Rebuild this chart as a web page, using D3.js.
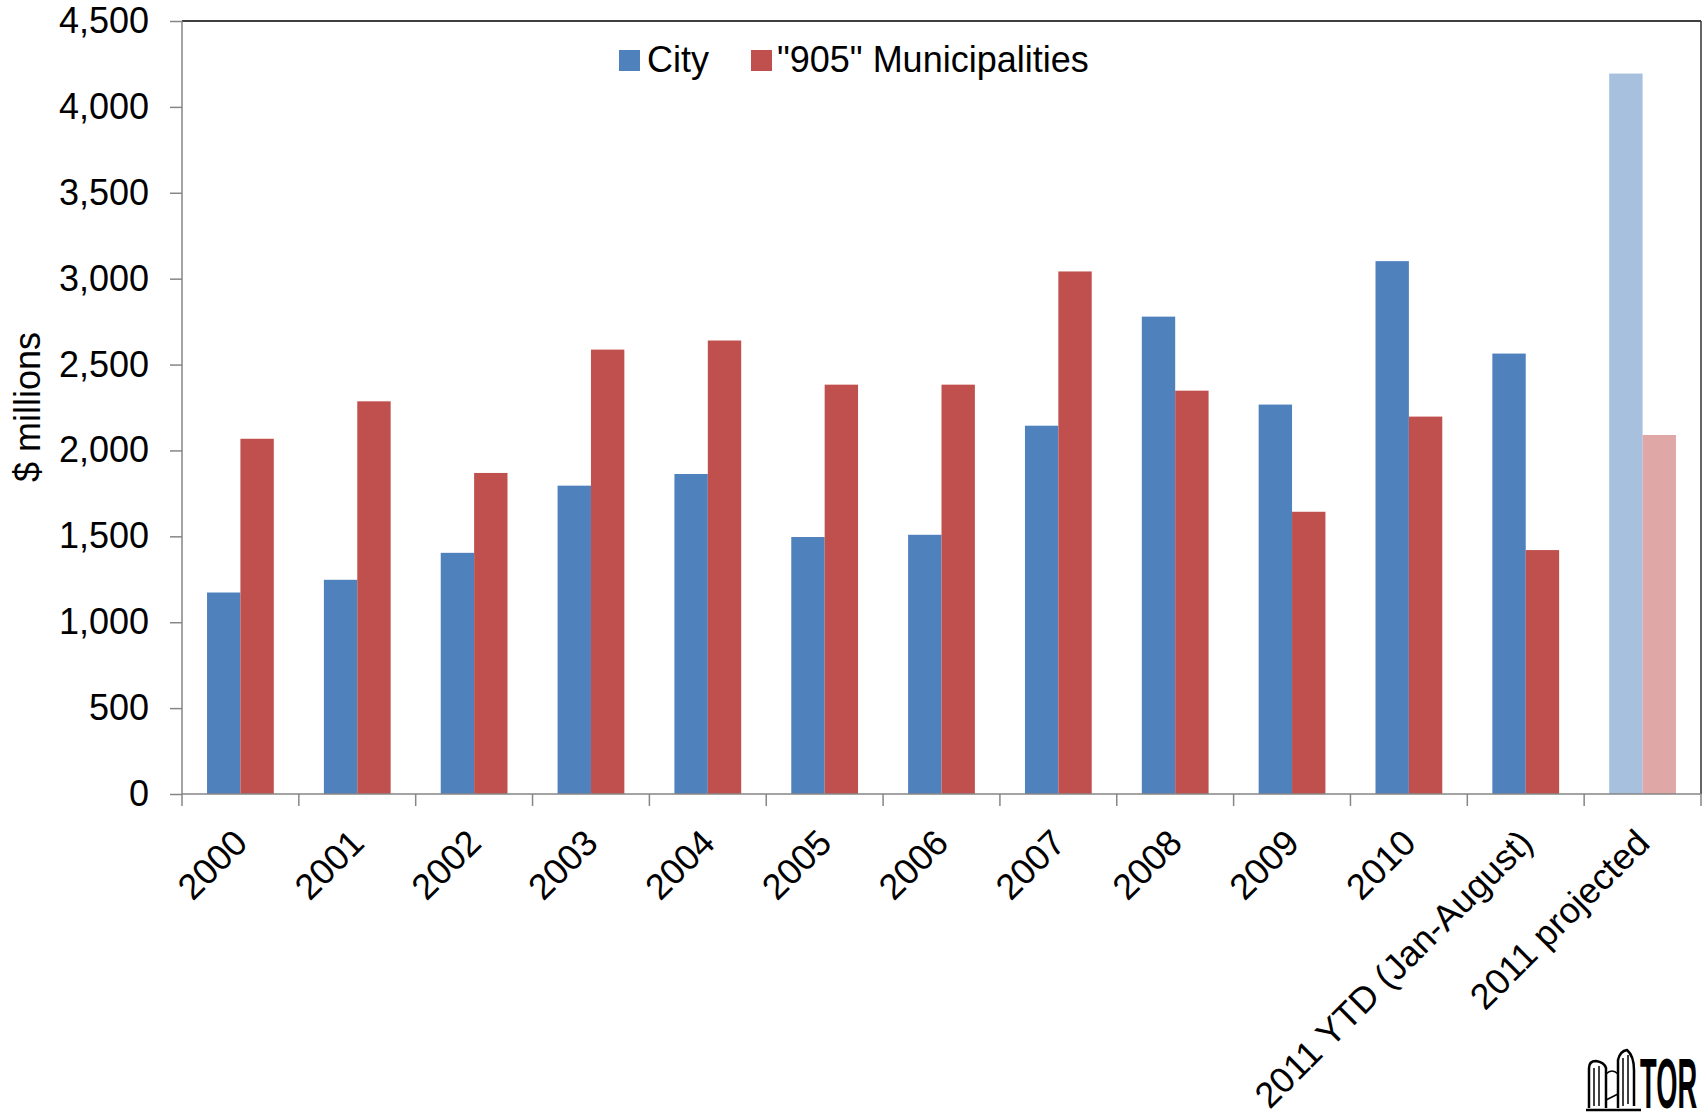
<!DOCTYPE html>
<html>
<head>
<meta charset="utf-8">
<script src="https://cdn.jsdelivr.net/npm/d3@7"></script>
<style>
  html, body { margin: 0; padding: 0; background: #ffffff; }
  svg { display: block; font-family: "Liberation Sans", Arial, sans-serif; }
</style>
</head>
<body>
<script>
// ---- data ----
const categories = ["2000","2001","2002","2003","2004","2005","2006","2007","2008","2009","2010","2011 YTD (Jan-August)","2011 projected"];
const cityValues = [1173, 1247, 1404, 1795, 1863, 1496, 1509, 2144, 2779, 2267, 3102, 2564, 4194];
const muniValues = [2068, 2286, 1869, 2587, 2640, 2383, 2383, 3042, 2348, 1643, 2197, 1420, 2090];
const seriesNames = ["City", "\"905\" Municipalities"];
const yTicks = [0, 500, 1000, 1500, 2000, 2500, 3000, 3500, 4000, 4500];
const projectedCategory = "2011 projected";

// ---- layout ----
const W = 1707, H = 1118;
const plot = { left: 182, right: 1701, top: 21, bottom: 794 };
const colors = { city: "#4F81BD", muni: "#C0504D", cityLight: "#A7C0DE", muniLight: "#DFA7A6" };
const fontSize = 36;

const svg = d3.select("body").append("svg").attr("width", W).attr("height", H);

const x = d3.scaleBand().domain(categories).range([plot.left, plot.right]).padding(0);
const y = d3.scaleLinear().domain([0, 4500]).range([plot.bottom, plot.top]);

const bw = x.bandwidth() / 3.5;          // gap width 150%
const off = (x.bandwidth() - 2 * bw) / 2;

const rows = categories.map((c, i) => ({ cat: c, city: cityValues[i], muni: muniValues[i] }));

// bars
const g = svg.append("g");
g.selectAll("rect.city").data(rows).join("rect")
  .attr("class", "city")
  .attr("x", d => x(d.cat) + off)
  .attr("y", d => y(d.city))
  .attr("width", bw)
  .attr("height", d => y(0) - y(d.city))
  .attr("fill", d => d.cat === projectedCategory ? colors.cityLight : colors.city);
g.selectAll("rect.muni").data(rows).join("rect")
  .attr("class", "muni")
  .attr("x", d => x(d.cat) + off + bw)
  .attr("y", d => y(d.muni))
  .attr("width", bw)
  .attr("height", d => y(0) - y(d.muni))
  .attr("fill", d => d.cat === projectedCategory ? colors.muniLight : colors.muni);

// plot border top/right
svg.append("line").attr("x1", plot.left).attr("x2", plot.right).attr("y1", plot.top).attr("y2", plot.top)
  .attr("stroke", "#000").attr("stroke-width", 1.5);
svg.append("line").attr("x1", plot.right).attr("x2", plot.right).attr("y1", plot.top).attr("y2", plot.bottom)
  .attr("stroke", "#333").attr("stroke-width", 1.5);

// y axis
const yAxis = d3.axisLeft(y).tickValues(yTicks).tickSize(12).tickPadding(21)
  .tickFormat(d3.format(","));
const yg = svg.append("g").attr("transform", `translate(${plot.left},0)`).call(yAxis);
yg.select(".domain").attr("stroke", "#868686").attr("stroke-width", 1.5).attr("d", `M0,${plot.top}V${plot.bottom}`);
yg.selectAll(".tick line").attr("stroke", "#868686").attr("stroke-width", 1.5);
yg.selectAll(".tick text").attr("font-size", fontSize).attr("fill", "#000")
  .attr("font-family", "Liberation Sans, Arial, sans-serif");

// x axis
const xg = svg.append("g").attr("transform", `translate(0,${plot.bottom})`);
xg.append("line").attr("x1", plot.left).attr("x2", plot.right).attr("y1", 0).attr("y2", 0)
  .attr("stroke", "#868686").attr("stroke-width", 1.5);
const bounds = categories.map(c => x(c)).concat([x(categories[categories.length - 1]) + x.bandwidth()]);
xg.selectAll("line.xt").data(bounds).join("line").attr("class", "xt")
  .attr("x1", d => d).attr("x2", d => d).attr("y1", 0).attr("y2", 12)
  .attr("stroke", "#868686").attr("stroke-width", 1.5);
svg.append("g").selectAll("text").data(categories).join("text")
  .attr("transform", d => `translate(${x(d) + x.bandwidth() / 2 + 9},${plot.bottom + 51}) rotate(-45)`)
  .attr("text-anchor", "end")
  .attr("font-size", fontSize)
  .attr("fill", "#000")
  .text(d => d);

// y title
svg.append("text").attr("transform", "translate(40,407) rotate(-90)")
  .attr("text-anchor", "middle").attr("font-size", fontSize).attr("fill", "#000")
  .text("$ millions");

// legend
const legend = [
  { name: seriesNames[0], color: colors.city, rx: 619, tx: 647 },
  { name: seriesNames[1], color: colors.muni, rx: 751, tx: 777 }
];
const lg = svg.append("g");
lg.selectAll("rect").data(legend).join("rect")
  .attr("x", d => d.rx).attr("y", 50).attr("width", 21).attr("height", 21).attr("fill", d => d.color);
lg.selectAll("text").data(legend).join("text")
  .attr("x", d => d.tx).attr("y", 72).attr("font-size", fontSize).attr("fill", "#000")
  .text(d => d.name);

// logo (Toronto)
const logo = svg.append("g").attr("fill", "none").attr("stroke", "#000").attr("stroke-width", 2.5);
logo.append("path").attr("d", "M1589,1108 L1589,1068 Q1589,1061 1596,1061 Q1604,1062 1606,1068 L1606,1108");
logo.append("path").attr("d", "M1594,1106 L1594,1068 M1599,1106 L1599,1066").attr("stroke-width", 1.5);
logo.append("path").attr("d", "M1618,1108 L1618,1060 Q1620,1051 1627,1050 Q1634,1056 1634,1070 L1634,1106");
logo.append("path").attr("d", "M1623,1106 L1623,1058 M1628,1104 L1628,1055").attr("stroke-width", 1.5);
logo.append("path").attr("d", "M1606,1074 Q1612,1068 1618,1074 M1606,1100 L1618,1094").attr("stroke-width", 1.5);
logo.append("path").attr("d", "M1586,1110 L1641,1110").attr("stroke-width", 2.5);
svg.append("text").attr("transform", "translate(1640,1108) scale(0.39,1)")
  .attr("font-family", "Liberation Sans, Arial, sans-serif")
  .attr("font-weight", "bold").attr("font-size", 70).attr("fill", "#000")
  .text("TOR");
</script>
</body>
</html>
